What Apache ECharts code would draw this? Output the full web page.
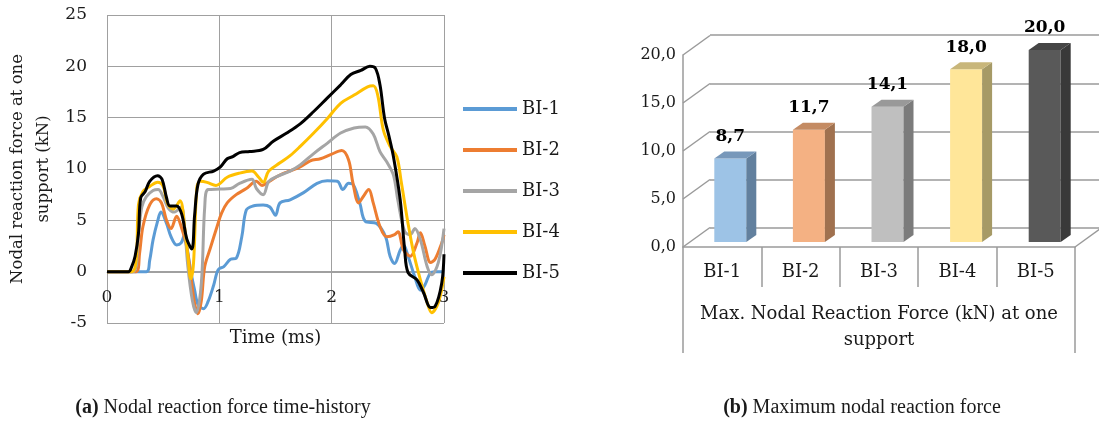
<!DOCTYPE html>
<html>
<head>
<meta charset="utf-8">
<script src="https://cdn.jsdelivr.net/npm/echarts@6/dist/echarts.min.js"></script>
<style>
  html, body { margin: 0; padding: 0; background: #fff; }
  #chart { width: 1099px; height: 423px; }
</style>
</head>
<body>
<div id="chart"></div>
<script>
// (a) time-history curves, [time (ms), force (kN)]
const bi1 = [[0,0],[0.35,0],[0.38,1.1],[0.41,3.1],[0.45,4.9],[0.48,5.8],[0.53,4.7],[0.57,3.4],[0.62,2.6],[0.66,2.8],[0.69,3.6],[0.72,1.8],[0.75,-0.2],[0.78,-1.8],[0.81,-3.2],[0.86,-3.6],[0.90,-2.9],[0.95,-1.3],[0.99,0.2],[1.04,0.5],[1.10,1.2],[1.15,1.3],[1.20,3.4],[1.24,6.0],[1.30,6.4],[1.39,6.5],[1.45,6.3],[1.50,5.5],[1.54,6.7],[1.63,7.0],[1.75,7.7],[1.87,8.6],[1.96,8.85],[2.05,8.8],[2.10,8.0],[2.15,8.6],[2.19,8.5],[2.25,6.7],[2.30,4.9],[2.40,4.7],[2.48,3.4],[2.52,1.5],[2.56,0.8],[2.61,2.1],[2.64,2.6],[2.68,1.5],[2.74,-0.5],[2.79,-1.8],[2.83,-1.3],[2.88,-0.1],[2.92,0],[3.0,0]];
const bi2 = [[0,0],[0.26,0],[0.29,1.8],[0.32,4.4],[0.38,6.5],[0.44,7.1],[0.485,6.7],[0.53,5.0],[0.57,4.2],[0.62,5.4],[0.66,4.4],[0.71,2.4],[0.75,-0.8],[0.78,-3.1],[0.81,-4.1],[0.84,-2.8],[0.87,0.5],[0.92,2.3],[0.98,4.4],[1.02,5.7],[1.07,6.7],[1.15,7.5],[1.24,8.1],[1.33,8.8],[1.38,8.4],[1.42,8.6],[1.51,9.25],[1.60,9.7],[1.72,10.2],[1.81,10.8],[1.90,11.0],[1.99,11.4],[2.09,11.8],[2.15,10.9],[2.19,8.6],[2.24,6.7],[2.28,7.3],[2.33,8.0],[2.37,6.7],[2.43,4.4],[2.49,3.4],[2.56,3.6],[2.59,3.9],[2.64,2.1],[2.70,1.5],[2.76,2.8],[2.79,3.8],[2.83,2.5],[2.88,0.9],[2.92,1.2],[2.98,2.8],[3.0,3.6]];
const bi3 = [[0,0],[0.23,0],[0.28,3.7],[0.31,6.3],[0.35,7.3],[0.41,7.9],[0.455,8.0],[0.50,7.3],[0.545,6.2],[0.60,5.8],[0.66,6.3],[0.69,4.4],[0.72,0.5],[0.76,-2.8],[0.795,-4.0],[0.84,-1.1],[0.87,6.3],[0.90,8.0],[1.01,8.05],[1.10,8.1],[1.18,8.6],[1.29,9.0],[1.33,8.1],[1.39,7.5],[1.44,8.8],[1.51,9.25],[1.63,9.8],[1.72,10.4],[1.84,11.5],[1.96,12.5],[2.08,13.5],[2.20,14.0],[2.30,14.1],[2.37,13.4],[2.43,11.7],[2.49,10.7],[2.55,9.4],[2.59,6.9],[2.65,3.9],[2.70,3.6],[2.74,4.2],[2.79,3.1],[2.85,0.5],[2.89,-0.3],[2.95,0.9],[3.0,4.2]];
const bi4 = [[0,0],[0.22,0],[0.26,1.2],[0.28,6.5],[0.32,7.8],[0.38,8.3],[0.45,8.7],[0.50,8.3],[0.54,6.6],[0.59,6.1],[0.65,6.9],[0.69,4.4],[0.72,1.5],[0.745,-0.7],[0.77,0.8],[0.80,8.2],[0.83,8.8],[0.89,8.7],[0.97,8.4],[1.07,9.2],[1.18,9.6],[1.29,9.8],[1.35,9.2],[1.39,8.7],[1.44,9.8],[1.54,10.6],[1.63,11.3],[1.72,12.2],[1.84,13.5],[1.96,14.9],[2.08,16.4],[2.20,17.2],[2.32,18.0],[2.37,18.1],[2.41,17.2],[2.46,13.8],[2.52,12.2],[2.58,11.2],[2.62,8.7],[2.68,4.7],[2.73,1.8],[2.79,-0.8],[2.85,-3.0],[2.89,-4.0],[2.95,-3.0],[3.0,-0.5]];
const bi5 = [[0,0],[0.19,0],[0.22,0.5],[0.25,1.5],[0.28,3.7],[0.30,7.2],[0.34,7.8],[0.38,8.8],[0.45,9.35],[0.49,9.0],[0.53,7.2],[0.56,6.4],[0.62,6.4],[0.665,5.6],[0.71,3.2],[0.755,2.2],[0.78,5.5],[0.81,8.5],[0.86,9.5],[0.95,9.8],[1.01,10.2],[1.07,11.0],[1.12,11.2],[1.18,11.6],[1.27,11.7],[1.39,11.9],[1.48,12.7],[1.60,13.5],[1.72,14.4],[1.84,15.6],[1.96,16.9],[2.08,18.2],[2.17,19.2],[2.26,19.6],[2.34,20.0],[2.39,19.8],[2.43,18.2],[2.47,15.0],[2.51,13.2],[2.55,11.2],[2.61,7.0],[2.65,2.1],[2.68,-0.1],[2.76,-0.8],[2.82,-2.1],[2.88,-3.5],[2.92,-3.4],[2.98,-1.1],[3.0,1.7]];

const seriesNames = ['BI-1', 'BI-2', 'BI-3', 'BI-4', 'BI-5'];
const lineColors = ['#5B9BD5', '#ED7D31', '#A5A5A5', '#FFC000', '#000000'];
const timeSeries = [bi1, bi2, bi3, bi4, bi5];

// (b) maximum force per beam
const barCategories = ['BI-1', 'BI-2', 'BI-3', 'BI-4', 'BI-5'];
const barValues = [8.7, 11.7, 14.1, 18.0, 20.0];
const barTicks = [0, 5, 10, 15, 20];
const groupLabel = 'Max. Nodal Reaction Force (kN) at one\nsupport';

const faceColors = ['#9DC3E6', '#F4B183', '#BFBFBF', '#FFE699', '#595959'];
const sideColors = ['#62809E', '#A0714F', '#7B7B7B', '#A69A66', '#393939'];
const topColors = ['#7898BA', '#C48B63', '#999999', '#C8B67A', '#454545'];

const serif = '"DejaVu Serif", serif';
const capFont = '"Liberation Serif", serif';
const textColor = '#1a1a1a';
const gridGray = '#A0A0A0';
const wallGray = '#9A9A9A';
// fake perspective
const wallDx = 27, wallDy = 19.5;
const barDx = 10, barDy = 7, barHalf = 16;

const fmt = v => v.toFixed(1).replace('.', ',');

const chart = echarts.init(document.getElementById('chart'));

const hidden = { show: false };

chart.setOption({
  animation: false,
  backgroundColor: '#fff',
  textStyle: { fontFamily: serif },
  grid: [
    { left: 107, right: 655, top: 15, bottom: 100, outerBoundsMode: 'none' },   // time history
    { left: 683, right: 24, top: 55, bottom: 176, outerBoundsMode: 'none' },    // front plane
    { left: 710, right: 0, top: 35, bottom: 195, outerBoundsMode: 'none' },     // back wall
    { left: 691, right: 15, top: 50, bottom: 181, outerBoundsMode: 'none' },    // bars
    { left: 683, right: 24, top: 55, bottom: 176, outerBoundsMode: 'none' }     // group label
  ],
  legend: {
    orient: 'vertical',
    left: 458,
    top: 94,
    itemWidth: 54,
    itemHeight: 4,
    itemGap: 21,
    icon: 'rect',
    data: seriesNames,
    textStyle: { fontFamily: serif, fontSize: 18, color: textColor, lineHeight: 20 }
  },
  xAxis: [
    {
      // axis sits on y = 0 like the Excel original
      gridIndex: 0, type: 'value', min: 0, max: 3, interval: 1,
      offset: -51,
      name: 'Time (ms)', nameLocation: 'middle', nameGap: 57, nameMoveOverlap: false,
      nameTextStyle: { fontFamily: serif, fontSize: 18, color: textColor },
      axisLine: { show: true, onZero: false, lineStyle: { color: gridGray, width: 1 } },
      axisTick: hidden,
      axisLabel: { fontFamily: serif, fontSize: 17, color: textColor, margin: 17 },
      splitLine: { show: true, lineStyle: { color: gridGray, width: 1 } }
    },
    {
      gridIndex: 1, type: 'category', data: barCategories,
      axisLine: { show: true, lineStyle: { color: wallGray, width: 1.5 } },
      axisTick: { show: true, length: 40, alignWithLabel: false, lineStyle: { color: wallGray, width: 1.5 } },
      axisLabel: { fontFamily: serif, fontSize: 18, color: textColor, margin: 16 },
      splitLine: hidden
    },
    { gridIndex: 2, type: 'value', show: false },
    { gridIndex: 3, type: 'category', data: barCategories, show: false },
    {
      gridIndex: 4, type: 'category', data: [groupLabel],
      axisLine: hidden,
      axisTick: { show: true, length: 106, lineStyle: { color: wallGray, width: 1.5 } },
      axisLabel: { fontFamily: serif, fontSize: 18, color: textColor, margin: 54, lineHeight: 26 },
      splitLine: hidden
    }
  ],
  yAxis: [
    {
      gridIndex: 0, type: 'value', min: -5, max: 25, interval: 5,
      name: 'Nodal reaction force at one\nsupport (kN)', nameLocation: 'middle', nameGap: 50, nameMoveOverlap: false,
      nameTextStyle: { fontFamily: serif, fontSize: 16.5, color: textColor, lineHeight: 26 },
      axisLine: hidden,
      axisTick: hidden,
      axisLabel: { fontFamily: serif, fontSize: 17, color: textColor, margin: 20 },
      splitLine: { show: true, lineStyle: { color: gridGray, width: 1 } }
    },
    {
      gridIndex: 1, type: 'value', min: 0, max: 20, interval: 5,
      axisLine: { show: true, lineStyle: { color: wallGray, width: 1.5 } },
      axisTick: hidden,
      axisLabel: { fontFamily: serif, fontSize: 16, color: textColor, margin: 7, formatter: fmt },
      splitLine: hidden
    },
    {
      gridIndex: 2, type: 'value', min: 0, max: 20, interval: 5,
      axisLine: hidden, axisTick: hidden, axisLabel: hidden,
      splitLine: { show: true, lineStyle: { color: wallGray, width: 1.5 } }
    },
    { gridIndex: 3, type: 'value', min: 0, max: 20, show: false },
    { gridIndex: 4, type: 'value', show: false }
  ],
  graphic: [
    {
      type: 'text', x: 223, y: 408,
      style: {
        text: '{b|(a)} Nodal reaction force time-history',
        align: 'center', verticalAlign: 'middle',
        fontFamily: capFont, fontSize: 20, fill: textColor,
        rich: { b: { fontWeight: 'bold', fontFamily: capFont, fontSize: 20 } }
      }
    },
    {
      type: 'text', x: 862, y: 408,
      style: {
        text: '{b|(b)} Maximum nodal reaction force',
        align: 'center', verticalAlign: 'middle',
        fontFamily: capFont, fontSize: 20, fill: textColor,
        rich: { b: { fontWeight: 'bold', fontFamily: capFont, fontSize: 20 } }
      }
    }
  ],
  series: [
    ...timeSeries.map((d, i) => ({
      name: seriesNames[i],
      type: 'line',
      xAxisIndex: 0, yAxisIndex: 0,
      data: d,
      showSymbol: false,
      smooth: 0.35,
      color: lineColors[i],
      lineStyle: { color: lineColors[i], width: 3 },
      z: 3 + i
    })),
    {
      // side wall diagonals and floor edge
      type: 'custom',
      xAxisIndex: 1, yAxisIndex: 1,
      data: barTicks.map(v => [0, v]),
      encode: { x: 0, y: 1 },
      silent: true,
      z: 1,
      renderItem: (params, api) => {
        const cs = params.coordSys;
        const y = api.coord([0, api.value(1)])[1];
        const st = { stroke: wallGray, lineWidth: 1.5 };
        const children = [
          { type: 'line', shape: { x1: cs.x, y1: y, x2: cs.x + wallDx, y2: y - wallDy }, style: st }
        ];
        if (api.value(1) === 0) {
          children.push({ type: 'line', shape: { x1: cs.x + cs.width, y1: y, x2: cs.x + cs.width + wallDx, y2: y - wallDy }, style: st });
        }
        return { type: 'group', children };
      }
    },
    {
      // pseudo 3D bars
      type: 'custom',
      xAxisIndex: 3, yAxisIndex: 3,
      data: barValues.map((v, i) => [i, v]),
      encode: { x: 0, y: 1 },
      z: 5,
      renderItem: (params, api) => {
        const i = params.dataIndex;
        const top = api.coord([api.value(0), api.value(1)]);
        const base = api.coord([api.value(0), 0]);
        const x0 = top[0] - barHalf, x1 = top[0] + barHalf;
        return {
          type: 'group',
          children: [
            { type: 'rect', shape: { x: x0, y: top[1], width: 2 * barHalf, height: base[1] - top[1] }, style: { fill: faceColors[i] } },
            { type: 'polygon', shape: { points: [[x1, top[1]], [x1 + barDx, top[1] - barDy], [x1 + barDx, base[1] - barDy], [x1, base[1]]] }, style: { fill: sideColors[i] } },
            { type: 'polygon', shape: { points: [[x0, top[1]], [x0 + barDx, top[1] - barDy], [x1 + barDx, top[1] - barDy], [x1, top[1]]] }, style: { fill: topColors[i] } },
            {
              type: 'text',
              style: {
                text: fmt(api.value(1)), x: top[0], y: top[1] - 22,
                align: 'center', verticalAlign: 'middle',
                fontFamily: serif, fontWeight: 'bold', fontSize: 17, fill: '#000'
              }
            }
          ]
        };
      }
    }
  ]
});

window.addEventListener('resize', () => chart.resize());
</script>
</body>
</html>
